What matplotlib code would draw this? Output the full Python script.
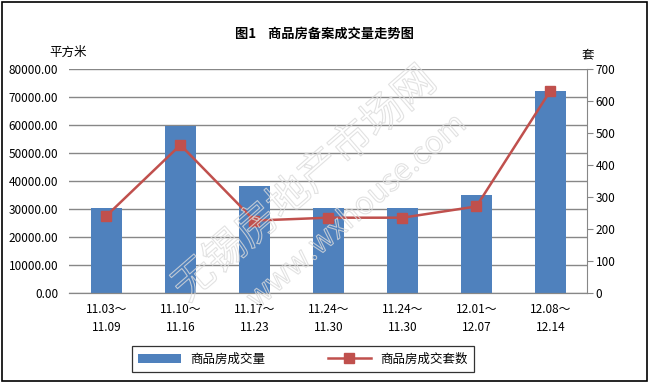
import matplotlib.pyplot as plt
import matplotlib.patheffects as pe
from matplotlib.ticker import FormatStrFormatter

plt.rcParams['font.family'] = ['Noto Sans CJK SC', 'DejaVu Sans']

# --- data ---
weeks = ["11.03～\n11.09", "11.10～\n11.16", "11.17～\n11.23", "11.24～\n11.30",
         "11.24～\n11.30", "12.01～\n12.07", "12.08～\n12.14"]
area = [30500, 59500, 38100, 30500, 30500, 35100, 72100]   # 平方米
units = [242, 463, 227, 236, 236, 271, 632]                 # 套

bar_color = "#4F81BD"
line_color = "#C0504D"
grid_color = "#878787"

fig = plt.figure(figsize=(6.49, 3.85), dpi=100)
ax = fig.add_axes([0.107, 0.238, 0.798, 0.583])
ax2 = ax.twinx()

x = list(range(len(weeks)))
bars = ax.bar(x, area, width=0.42, color=bar_color, zorder=2, label="商品房成交量")
line, = ax2.plot(x, units, color=line_color, lw=1.8, marker="s", markersize=7,
                 markerfacecolor=line_color, markeredgecolor=line_color,
                 zorder=3, label="商品房成交套数")

ax.set_xlim(-0.5, len(weeks) - 0.5)
ax.set_ylim(0, 80000)
ax.set_yticks(range(0, 80001, 10000))
ax.yaxis.set_major_formatter(FormatStrFormatter("%.2f"))
ax2.set_ylim(0, 700)
ax2.set_yticks(range(0, 701, 100))

ax.set_xticks(x)
ax.set_xticklabels(weeks, fontsize=8.5, linespacing=1.45)
ax.tick_params(axis="x", length=0, pad=7)
ax.tick_params(axis="y", length=0, labelsize=8.5, pad=8)
ax2.tick_params(axis="y", length=4, color=grid_color, labelsize=8.5, pad=2)

ax.grid(axis="y", color=grid_color, lw=1, zorder=0)
ax.set_axisbelow(True)
for a in (ax, ax2):
    a.spines["top"].set_visible(False)
    a.spines["left"].set_visible(False)
    a.spines["bottom"].set_color(grid_color)
ax.spines["right"].set_visible(False)
ax2.spines["right"].set_color(grid_color)

# put the line above the bars
ax2.set_zorder(ax.get_zorder() + 1)
ax2.patch.set_visible(False)

fig.text(0.50, 0.912, "图1    商品房备案成交量走势图", ha="center", va="center",
         fontsize=9.5, fontweight="bold")
fig.text(0.105, 0.865, "平方米", ha="center", va="center", fontsize=9)
fig.text(0.905, 0.858, "套", ha="center", va="center", fontsize=9)

leg = fig.legend(handles=[bars, line], loc="center", bbox_to_anchor=(0.467, 0.067),
                 ncol=2, fontsize=9, frameon=True, fancybox=False,
                 edgecolor="black", handlelength=3.4, columnspacing=5.0,
                 borderpad=0.5)
leg.get_frame().set_linewidth(0.9)

# faint outlined watermark (outline only, transparent fill)
wm = dict(color=(1, 1, 1, 0), rotation=41, ha="center", va="center",
          path_effects=[pe.Stroke(linewidth=0.8, foreground=(0.86, 0.86, 0.86, 0.8))],
          zorder=5)
fig.text(0.47, 0.52, "无锡房地产市场网", fontsize=30, **wm)
fig.text(0.55, 0.45, "www.wxhouse.com", fontsize=22, **wm)

# outer frame
fig.patches.append(plt.Rectangle((0.003, 0.01), 0.994, 0.985, transform=fig.transFigure,
                                 fill=False, edgecolor="black", lw=1.2))

plt.savefig("out.png", dpi=100)
